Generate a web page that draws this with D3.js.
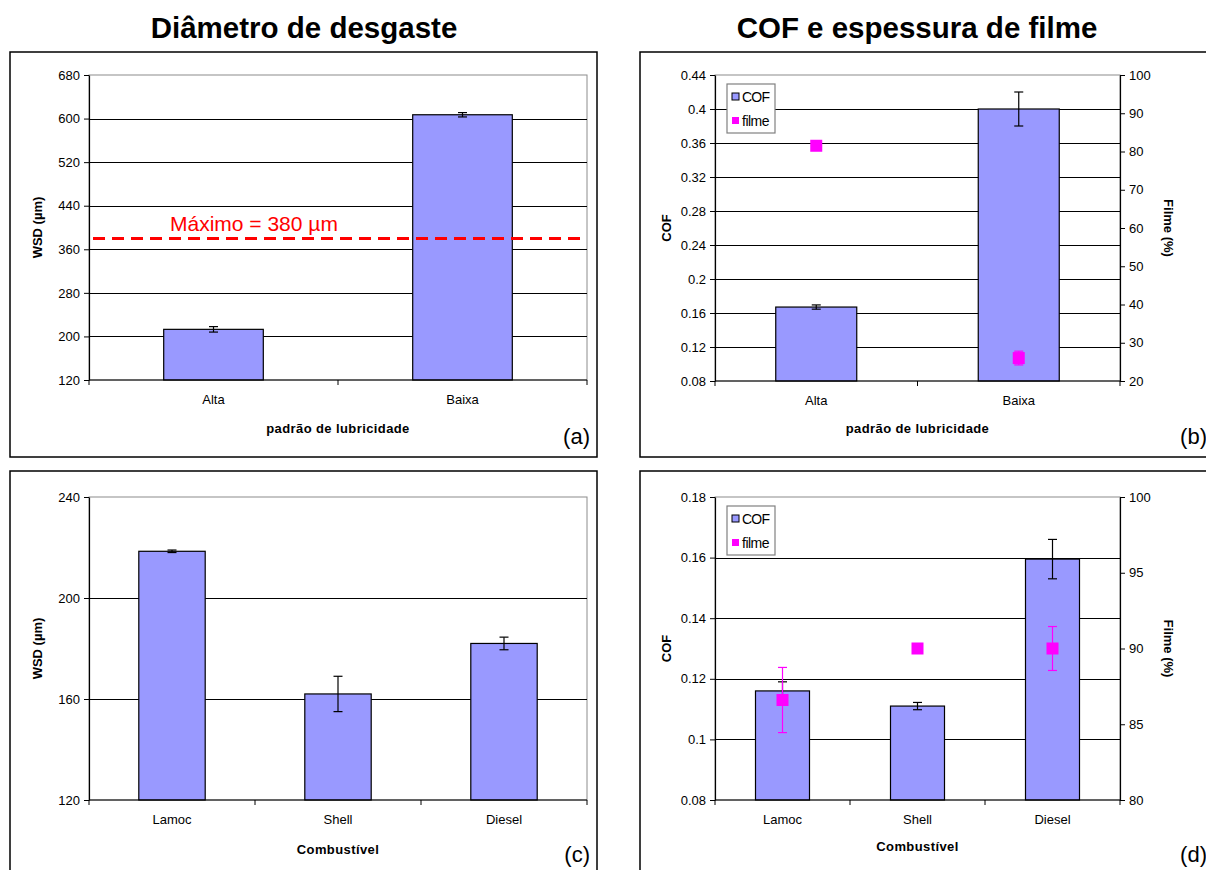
<!DOCTYPE html>
<html>
<head>
<meta charset="utf-8">
<script src="https://cdn.jsdelivr.net/npm/d3@7"></script>
<style>
  html, body { margin: 0; padding: 0; background: #fff; }
  svg { display: block; font-family: Arial, "Liberation Sans", sans-serif; }
</style>
</head>
<body>
<svg id="chart" width="1206" height="870"></svg>
<script>
// Lubricity standards
const lubricityCats = ["Alta", "Baixa"];
const wsdLub = [213, 607];
const wsdLubErr = [5, 4];
const wsdLimit = 380;
const cofLub = [0.167, 0.40];
const cofLubErr = [0.0025, 0.02];
const filmeLub = [81.5, 26];
const filmeLubErr = [0, 1.8];

// Fuels
const fuelCats = ["Lamoc", "Shell", "Diesel"];
const wsdFuel = [218.5, 162, 182];
const wsdFuelErr = [0.5, 7, 2.5];
const cofFuel = [0.116, 0.111, 0.1595];
const cofFuelErr = [0.003, 0.0012, 0.0065];
const filmeFuel = [86.6, 90, 90];
const filmeFuelErr = [2.15, 0, 1.45];

// Axis tick values
const wsdLubTicks = [120, 200, 280, 360, 440, 520, 600, 680];
const cofLubTicks = [0.08, 0.12, 0.16, 0.2, 0.24, 0.28, 0.32, 0.36, 0.4, 0.44];
const filmeLubTicks = [20, 30, 40, 50, 60, 70, 80, 90, 100];
const wsdFuelTicks = [120, 160, 200, 240];
const cofFuelTicks = [0.08, 0.1, 0.12, 0.14, 0.16, 0.18];
const filmeFuelTicks = [80, 85, 90, 95, 100];

const svg = d3.select("#chart");
const BAR = "#9999FF", MAG = "#FF00FF";
const FONT = 'Arial, "Liberation Sans", sans-serif';
const numFmt = d => String(+(+d).toFixed(2));

// Top titles
svg.append("text").attr("x", 304).attr("y", 38).attr("text-anchor", "middle")
  .attr("font-size", 29.5).attr("font-weight", "bold").text("Diâmetro de desgaste");
svg.append("text").attr("x", 917).attr("y", 38).attr("text-anchor", "middle")
  .attr("font-size", 29.5).attr("font-weight", "bold").text("COF e espessura de filme");

function panel(o) {
  const g = svg.append("g");
  // outer frame
  g.append("rect").attr("x", o.frame[0]).attr("y", o.frame[1])
    .attr("width", o.frame[2]).attr("height", o.frame[3])
    .attr("fill", "none").attr("stroke", "#000").attr("stroke-width", 1.5);

  const [L, T, R, B] = o.plot;
  const x = d3.scaleBand().domain(o.cats).range([L, R]);
  const y = d3.scaleLinear().domain([o.ticks[0], o.ticks[o.ticks.length - 1]]).range([B, T]);
  const bw = x.bandwidth() / 2.5;

  // plot area border
  g.append("rect").attr("x", L).attr("y", T).attr("width", R - L).attr("height", B - T)
    .attr("fill", "none").attr("stroke", "#8c8c8c").attr("stroke-width", 1);

  // gridlines
  g.append("g").selectAll("line").data(o.ticks.slice(1, -1)).join("line")
    .attr("x1", L).attr("x2", R).attr("y1", d => Math.round(y(d)) + 0.5).attr("y2", d => Math.round(y(d)) + 0.5)
    .attr("stroke", "#000").attr("stroke-width", 1);

  // bars
  g.append("g").selectAll("rect").data(o.vals).join("rect")
    .attr("x", (d, i) => x(o.cats[i]) + (x.bandwidth() - bw) / 2)
    .attr("y", d => y(d)).attr("width", bw).attr("height", d => B - y(d))
    .attr("fill", BAR).attr("stroke", "#000").attr("stroke-width", 1.2);

  // error bars for bars
  const eb = g.append("g").attr("stroke", "#000").attr("stroke-width", 1.2);
  o.vals.forEach((v, i) => {
    const e = o.errs[i];
    if (!e) return;
    const cx = x(o.cats[i]) + x.bandwidth() / 2;
    eb.append("line").attr("x1", cx).attr("x2", cx).attr("y1", y(v - e)).attr("y2", y(v + e));
    [v - e, v + e].forEach(t => eb.append("line").attr("x1", cx - 4.5).attr("x2", cx + 4.5).attr("y1", y(t)).attr("y2", y(t)));
  });

  // left axis
  const ax = g.append("g").attr("transform", `translate(${L},0)`)
    .call(d3.axisLeft(y).tickValues(o.ticks).tickSize(5).tickSizeOuter(0).tickPadding(4).tickFormat(o.fmt));
  ax.select(".domain").attr("stroke", "#000").attr("stroke-width", 1.2);
  ax.selectAll(".tick line").attr("stroke", "#000");
  ax.selectAll("text").attr("font-size", 13).attr("fill", "#000").attr("font-family", FONT);

  // bottom axis line with boundary ticks
  g.append("line").attr("x1", L).attr("x2", R).attr("y1", B).attr("y2", B)
    .attr("stroke", "#000").attr("stroke-width", 1.2);
  g.append("g").selectAll("line").data(d3.range(o.cats.length + 1)).join("line")
    .attr("x1", i => L + i * x.bandwidth()).attr("x2", i => L + i * x.bandwidth())
    .attr("y1", B).attr("y2", B + 5).attr("stroke", "#000");
  g.append("g").selectAll("text").data(o.cats).join("text")
    .attr("x", d => x(d) + x.bandwidth() / 2).attr("y", B + 24)
    .attr("text-anchor", "middle").attr("font-size", 13).text(d => d);

  // axis titles
  g.append("text").attr("x", (L + R) / 2).attr("y", o.xTitleY).attr("text-anchor", "middle")
    .attr("font-size", 13).attr("font-weight", "bold").attr("letter-spacing", 0.4).text(o.xTitle);
  g.append("text").attr("transform", `translate(${o.yTitleX},${(T + B) / 2}) rotate(-90)`)
    .attr("text-anchor", "middle").attr("font-size", 13).attr("font-weight", "bold").text(o.yTitle);

  // panel letter
  g.append("text").attr("x", o.letter[0]).attr("y", o.letter[1]).attr("text-anchor", "end")
    .attr("font-size", 22).text(o.letter[2]);

  // secondary axis with film thickness
  if (o.film) {
    const y2 = d3.scaleLinear().domain([o.film.ticks[0], o.film.ticks[o.film.ticks.length - 1]]).range([B, T]);
    const ax2 = g.append("g").attr("transform", `translate(${R},0)`)
      .call(d3.axisRight(y2).tickValues(o.film.ticks).tickSize(5).tickSizeOuter(0).tickPadding(4));
    ax2.select(".domain").attr("stroke", "#000").attr("stroke-width", 1.2);
    ax2.selectAll(".tick line").attr("stroke", "#000");
    ax2.selectAll("text").attr("font-size", 13).attr("fill", "#000").attr("font-family", FONT);
    g.append("text").attr("transform", `translate(${R + 44},${(T + B) / 2}) rotate(90)`)
      .attr("text-anchor", "middle").attr("font-size", 13).attr("font-weight", "bold").text("Filme (%)");

    const fe = g.append("g").attr("stroke", MAG).attr("stroke-width", 1.2);
    o.film.vals.forEach((v, i) => {
      const e = o.film.errs[i];
      const cx = x(o.cats[i]) + x.bandwidth() / 2;
      if (e) {
        fe.append("line").attr("x1", cx).attr("x2", cx).attr("y1", y2(v - e)).attr("y2", y2(v + e));
        [v - e, v + e].forEach(t => fe.append("line").attr("x1", cx - 4.5).attr("x2", cx + 4.5).attr("y1", y2(t)).attr("y2", y2(t)));
      }
    });
    g.append("g").selectAll("rect").data(o.film.vals).join("rect")
      .attr("x", (d, i) => x(o.cats[i]) + x.bandwidth() / 2 - 6).attr("y", d => y2(d) - 6)
      .attr("width", 12).attr("height", 12).attr("fill", MAG);

    // legend
    const lg = g.append("g").attr("transform", `translate(${L + 12},${T + 9})`);
    lg.append("rect").attr("x", 0).attr("y", 0).attr("width", 48).attr("height", 49)
      .attr("fill", "#fff").attr("stroke", "#808080").attr("stroke-width", 1.2);
    lg.append("rect").attr("x", 5).attr("y", 9).attr("width", 7).attr("height", 7)
      .attr("fill", BAR).attr("stroke", "#000");
    lg.append("text").attr("x", 15).attr("y", 18).attr("font-size", 14).attr("letter-spacing", -0.8).text("COF");
    lg.append("rect").attr("x", 5).attr("y", 33).attr("width", 7).attr("height", 7).attr("fill", MAG);
    lg.append("text").attr("x", 15).attr("y", 42).attr("font-size", 14).attr("letter-spacing", -0.5).text("filme");
  }
  return { g, x, y };
}

// (a) wear scar diameter by lubricity standard
const pa = panel({
  frame: [10, 52, 587, 405], plot: [89, 75, 587, 380],
  cats: lubricityCats, vals: wsdLub, errs: wsdLubErr, ticks: wsdLubTicks, fmt: d3.format("d"),
  xTitle: "padrão de lubricidade", xTitleY: 433, yTitle: "WSD (µm)", yTitleX: 42,
  letter: [590, 444, "(a)"]
});
// limit line
pa.g.append("line").attr("x1", 93).attr("x2", 587)
  .attr("y1", pa.y(wsdLimit)).attr("y2", pa.y(wsdLimit))
  .attr("stroke", "#FF0000").attr("stroke-width", 3).attr("stroke-dasharray", "12,7");
pa.g.append("text").attr("x", 170).attr("y", pa.y(wsdLimit) - 7).attr("font-size", 21)
  .attr("fill", "#FF0000").text(`Máximo = ${wsdLimit} µm`);

// (b) COF and film by lubricity standard
panel({
  frame: [640, 52, 600, 405], plot: [715, 75, 1120, 381],
  cats: lubricityCats, vals: cofLub, errs: cofLubErr, ticks: cofLubTicks, fmt: numFmt,
  xTitle: "padrão de lubricidade", xTitleY: 433, yTitle: "COF", yTitleX: 671,
  letter: [1207, 444, "(b)"],
  film: { vals: filmeLub, errs: filmeLubErr, ticks: filmeLubTicks }
});

// (c) wear scar diameter by fuel
panel({
  frame: [10, 471, 587, 420], plot: [89, 497, 587, 800],
  cats: fuelCats, vals: wsdFuel, errs: wsdFuelErr, ticks: wsdFuelTicks, fmt: d3.format("d"),
  xTitle: "Combustível", xTitleY: 854, yTitle: "WSD (µm)", yTitleX: 42,
  letter: [590, 862, "(c)"]
});

// (d) COF and film by fuel
panel({
  frame: [640, 471, 600, 420], plot: [715, 497, 1120, 800],
  cats: fuelCats, vals: cofFuel, errs: cofFuelErr, ticks: cofFuelTicks, fmt: numFmt,
  xTitle: "Combustível", xTitleY: 851, yTitle: "COF", yTitleX: 671,
  letter: [1207, 862, "(d)"],
  film: { vals: filmeFuel, errs: filmeFuelErr, ticks: filmeFuelTicks }
});
</script>
</body>
</html>
